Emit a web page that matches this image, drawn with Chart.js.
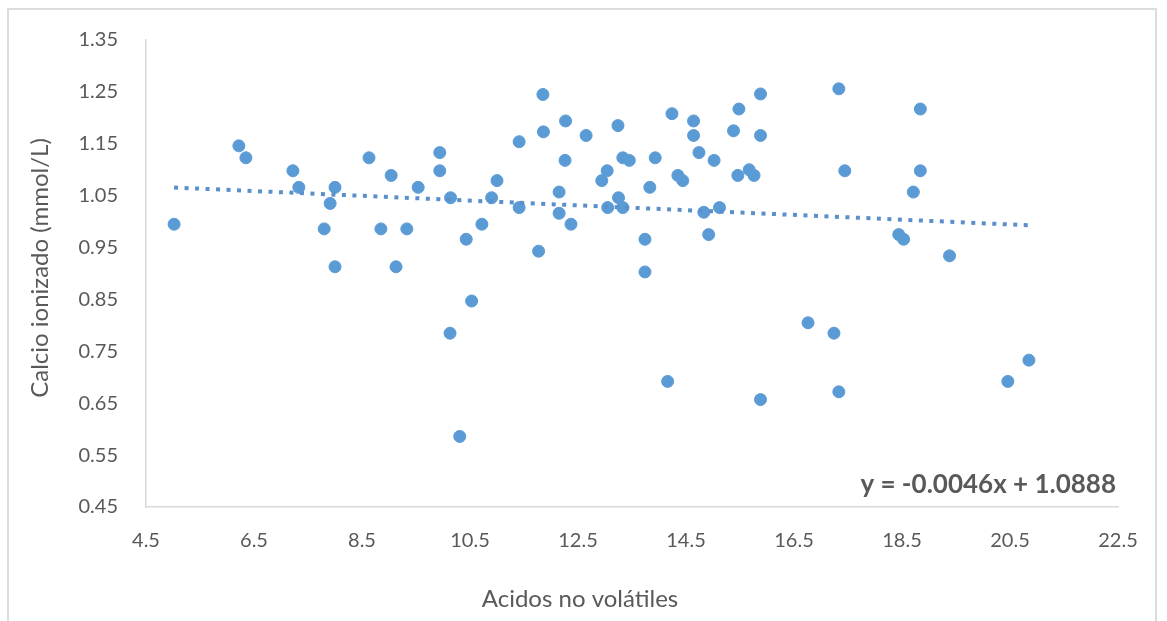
<!DOCTYPE html>
<html>
<head>
<meta charset="utf-8">
<script src="https://cdn.jsdelivr.net/npm/chart.js@4.4.1/dist/chart.umd.min.js"></script>
<style>
  html, body { margin: 0; padding: 0; background: #fff; }
  #wrap { position: relative; width: 1167px; height: 621px; overflow: hidden; }
  #frame { position: absolute; left: 7px; top: 8px; width: 1150px; height: 700px;
           border: 2px solid #dcdcdc; box-sizing: border-box; }
  #chart { position: absolute; left: 0; top: 0; }
</style>
</head>
<body>
<div id="wrap">
  <div id="frame"></div>
  <canvas id="chart" width="1167" height="621"></canvas>
</div>
<script>
// values
const acidos = [
  5.02, 6.22, 6.35, 7.22, 7.33, 7.80, 7.91, 8.00, 8.00, 8.63,
  8.85, 9.04, 9.13, 9.33, 9.54, 9.94, 9.94, 10.14, 10.13, 10.31,
  10.43, 10.53, 10.72, 10.90, 11.00, 11.41, 11.41, 11.77, 11.85, 11.86,
  12.15, 12.15, 12.27, 12.26, 12.37, 12.65, 12.94, 13.04, 13.05, 13.24,
  13.25, 13.33, 13.33, 13.45, 13.74, 13.74, 13.83, 13.93, 14.16, 14.24,
  14.35, 14.44, 14.64, 14.64, 14.74, 14.83, 14.92, 15.02, 15.12, 15.38,
  15.48, 15.46, 15.67, 15.76, 15.88, 15.88, 15.88, 16.76, 17.24, 17.33,
  17.33, 17.44, 18.44, 18.53, 18.71, 18.84, 18.84, 19.38, 20.46, 20.85
];
const calcio = [
  0.995, 1.146, 1.123, 1.098, 1.066, 0.986, 1.035, 1.066, 0.913, 1.123,
  0.986, 1.089, 0.913, 0.986, 1.066, 1.133, 1.098, 1.046, 0.785, 0.586,
  0.966, 0.847, 0.995, 1.046, 1.079, 1.154, 1.027, 0.943, 1.245, 1.173,
  1.057, 1.016, 1.194, 1.118, 0.995, 1.166, 1.079, 1.098, 1.027, 1.185,
  1.046, 1.123, 1.027, 1.118, 0.966, 0.903, 1.066, 1.123, 0.692, 1.208,
  1.089, 1.079, 1.194, 1.166, 1.133, 1.018, 0.975, 1.118, 1.027, 1.175,
  1.217, 1.089, 1.100, 1.089, 1.246, 1.166, 0.657, 0.805, 0.785, 1.256,
  0.672, 1.098, 0.975, 0.966, 1.057, 1.217, 1.098, 0.934, 0.692, 0.733
];
const xTicks = [4.5, 6.5, 8.5, 10.5, 12.5, 14.5, 16.5, 18.5, 20.5, 22.5];
const yTicks = [0.45, 0.55, 0.65, 0.75, 0.85, 0.95, 1.05, 1.15, 1.25, 1.35];
const slope = -0.0046;
const intercept = 1.0888;
const equation = "y = -0.0046x + 1.0888";
const xTitle = "Acidos no volátiles";
const yTitle = "Calcio ionizado (mmol/L)";

const points = acidos.map((x, i) => ({ x: x, y: calcio[i] }));
const xMin = Math.min(...acidos);
const xMax = Math.max(...acidos);
const trend = [
  { x: xMin, y: slope * xMin + intercept },
  { x: xMax, y: slope * xMax + intercept },
];

const textColor = "#595959";
const fontFamily = "Lato, 'Open Sans', sans-serif";

// axis titles and the equation label
const labelsPlugin = {
  id: "labels",
  afterDraw(chart) {
    const ctx = chart.ctx;
    const area = chart.chartArea;
    ctx.save();
    ctx.fillStyle = textColor;
    ctx.font = "24px " + fontFamily;
    ctx.textAlign = "center";
    ctx.textBaseline = "middle";
    ctx.fillText(xTitle, 580, 599);
    ctx.translate(40, 268);
    ctx.rotate(-Math.PI / 2);
    ctx.fillText(yTitle, 0, 0);
    ctx.restore();

    ctx.save();
    ctx.fillStyle = textColor;
    ctx.font = "bold 26px " + fontFamily;
    ctx.textAlign = "right";
    ctx.textBaseline = "middle";
    ctx.fillText(equation, area.right - 2, 485);
    ctx.restore();
  },
};

new Chart(document.getElementById("chart"), {
  type: "scatter",
  data: {
    datasets: [
      {
        label: "Tendencia",
        type: "line",
        data: trend,
        borderColor: "#5a8fcc",
        borderWidth: 4,
        borderDash: [4, 6.5],
        pointRadius: 0,
        fill: false,
        order: 0,
      },
      {
        label: "Calcio",
        data: points,
        backgroundColor: "#5b9bd5",
        borderColor: "#5b9bd5",
        borderWidth: 1,
        pointRadius: 6,
        order: 1,
      },
    ],
  },
  options: {
    responsive: false,
    animation: false,
    layout: { padding: { left: 0, right: 49, top: 38, bottom: 0 } },
    plugins: {
      legend: { display: false },
      tooltip: { enabled: false },
    },
    scales: {
      x: {
        type: "linear",
        min: 4.5,
        max: 22.5,
        afterBuildTicks: (scale) => {
          scale.ticks = xTicks.map((v) => ({ value: v }));
        },
        afterFit: (scale) => {
          scale.height = 114;
        },
        grid: { display: false, drawTicks: false },
        border: { display: true, color: "#d9d9d9", width: 1.5 },
        ticks: {
          padding: 22,
          color: textColor,
          font: { family: fontFamily, size: 20 },
          callback: (v) => v.toFixed(1),
        },
      },
      y: {
        type: "linear",
        min: 0.45,
        max: 1.35,
        afterBuildTicks: (scale) => {
          scale.ticks = yTicks.map((v) => ({ value: v }));
        },
        afterFit: (scale) => {
          scale.width = 146;
        },
        grid: { display: false, drawTicks: false },
        border: { display: true, color: "#d9d9d9", width: 1.5 },
        ticks: {
          padding: 28,
          color: textColor,
          font: { family: fontFamily, size: 20 },
          callback: (v) => v.toFixed(2),
        },
      },
    },
  },
  plugins: [labelsPlugin],
});
</script>
</body>
</html>
